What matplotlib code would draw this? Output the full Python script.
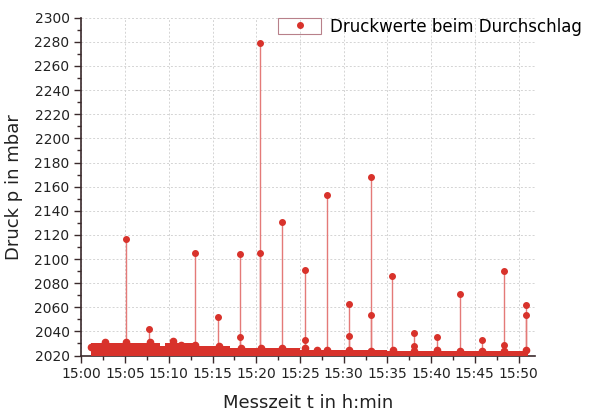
import matplotlib.pyplot as plt
from matplotlib.patches import Rectangle
from matplotlib.lines import Line2D
from matplotlib.legend_handler import HandlerTuple
from matplotlib.ticker import MultipleLocator

plt.rcParams['font.family'] = ['DejaVu Sans']

# Zeit in Minuten nach 15:00
# Grundrauschen (dichte Messpunkte) als Abschnitte: Start, Ende, Oberkante in mbar
base_start = [1.15, 9.0, 9.6, 13.0, 17.0, 25.0, 35.0]
base_end = [9.0, 9.6, 13.0, 17.0, 25.0, 35.0, 51.1]
base_top = [2030, 2028, 2030, 2028, 2026, 2025, 2024]

# kleine Hügel auf dem Grundrauschen
bump_t = [1.15, 2.7, 5.1, 7.8, 10.5, 11.4, 13.0, 15.7, 18.2, 20.5, 23.0, 25.6, 27.0,
          28.1, 30.6, 33.1, 35.6, 38.1, 40.7, 43.3, 45.8, 48.3, 50.8]
bump_p = [2027, 2031, 2031, 2031, 2032, 2029, 2029, 2028, 2026, 2026, 2026, 2026, 2025,
          2025, 2025, 2024, 2025, 2024, 2025, 2024, 2024, 2024, 2025]

# Druckwerte beim Durchschlag
spike_t = [5.05, 7.7, 12.95, 15.6, 18.1, 18.1, 20.45, 20.45, 23.0, 25.6, 25.6,
           28.05, 30.6, 30.6, 33.1, 33.1, 35.55, 38.1, 38.1, 40.7, 43.25, 45.8,
           48.3, 48.3, 50.8, 50.8]
spike_p = [2117, 2042, 2105, 2052, 2104, 2035, 2279, 2105, 2131, 2091, 2033,
           2153, 2063, 2036, 2168, 2054, 2086, 2039, 2028, 2035, 2071, 2033,
           2090, 2029, 2062, 2054]

xtick_labels = ['15:00', '15:05', '15:10', '15:15', '15:20', '15:25',
                '15:30', '15:35', '15:40', '15:45', '15:50']

red = '#d8322b'
stem = '#e47a78'
axcol = '#3b2a2c'

fig = plt.figure(figsize=(5.9, 4.12), dpi=100)
ax = fig.add_axes([0.138, 0.137, 0.769, 0.82])

ax.grid(True, color='#d4d4d4', linestyle=(0, (2, 2)), linewidth=0.7)
ax.set_axisbelow(True)

ax.vlines(spike_t, 2020, spike_p, color=stem, linewidth=1.0, zorder=2)
ax.plot(spike_t, spike_p, 'o', color=red, markersize=4, zorder=4)

for s, e, top in zip(base_start, base_end, base_top):
    ax.fill_between([s, e], 2020, top, color=red, linewidth=0, zorder=3)
ax.plot(bump_t, bump_p, 'o', color=red, markersize=4.5, zorder=3)

ax.set_xlim(0, 51.9)
ax.set_ylim(2020, 2300)
ax.set_xticks(range(0, 51, 5))
ax.set_xticklabels(xtick_labels)
ax.xaxis.set_minor_locator(MultipleLocator(2.5))
ax.yaxis.set_major_locator(MultipleLocator(20))
ax.yaxis.set_minor_locator(MultipleLocator(10))

for side in ['top', 'right']:
    ax.spines[side].set_visible(False)
for side in ['left', 'bottom']:
    ax.spines[side].set_color(axcol)
    ax.spines[side].set_linewidth(1.2)
ax.tick_params(which='both', direction='out', color=axcol, width=1.0)
ax.tick_params(which='major', length=5, labelsize=10, labelcolor='#222222')
ax.tick_params(which='minor', length=3)

ax.set_xlabel('Messzeit t in h:min', fontsize=13, color='#222222', labelpad=9)
ax.set_ylabel('Druck p in mbar', fontsize=13, color='#222222', labelpad=8)

box = Rectangle((0, 0), 1, 1, facecolor='none', edgecolor='#b8808a', linewidth=0.8)
dot = Line2D([], [], marker='o', color=red, linestyle='none', markersize=4)
ax.legend([(box, dot)], ['Druckwerte beim Durchschlag'],
          handler_map={tuple: HandlerTuple(ndivide=1)},
          loc='upper right', bbox_to_anchor=(1.135, 1.045), frameon=False,
          fontsize=12, handlelength=2.6, handleheight=1.1, handletextpad=0.5)

fig.savefig('out.png', dpi=100)
